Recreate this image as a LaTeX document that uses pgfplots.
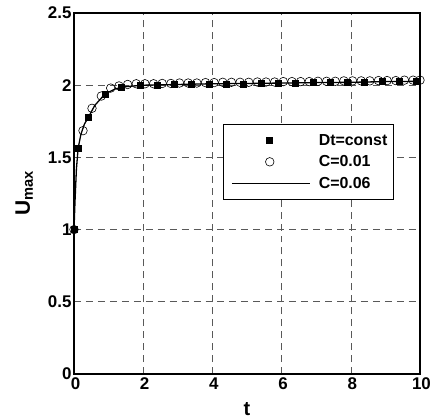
\documentclass[border=0pt]{standalone}
\usepackage{fontspec}
\setmainfont{Liberation Sans}
\usepackage{pgfplots}
\pgfplotsset{compat=1.18}
\pgfplotsset{marklegend/.style={legend image code/.code={\draw[mark repeat=1,mark phase=1,##1] plot coordinates {(42bp,0bp)}; \path[draw=none,fill=none] (0bp,0bp) -- (89bp,0bp);}}}
\begin{document}
\begin{tikzpicture}
\begin{axis}[name=ax,
  scale only axis, width=346bp, height=361bp,
  xmin=0, xmax=10, ymin=0, ymax=2.5,
  xtick={0,2,4,6,8,10}, ytick={0,0.5,1,1.5,2,2.5},
  yticklabels={0,0.5,1,1.5,2,2.5},
  /pgf/number format/assume math mode=true,
  ticklabel style={font=\fontsize{17}{17}\selectfont\bfseries},
  xticklabel style={yshift=0pt, xshift=1.5pt},
  yticklabel style={xshift=1pt},
  tick style={draw=none},
  grid=major,
  major grid style={black!65, dash pattern=on 7pt off 5pt, line width=0.6pt},
  axis line style={line width=1.4pt},
  xlabel={t}, xlabel style={font=\fontsize{20}{20}\selectfont\bfseries, yshift=-6pt},
  ylabel={U$_{\mathbf{max}}$}, ylabel style={font=\fontsize{21}{21}\selectfont\bfseries, yshift=8pt},
  legend style={at={(0.432,0.482)}, anchor=south west, font=\fontsize{16}{16}\selectfont\bfseries,
    draw=black, line width=0.6pt, inner xsep=4pt, inner ysep=8pt, row sep=5pt, cells={anchor=west}},
  legend cell align=left,
  legend image code/.code={\draw[#1] (4bp,0bp) -- (82bp,0bp); \path[draw=none] (0bp,0bp) -- (89bp,0bp);},
]
\addplot[only marks, mark=square*, mark size=3pt, black, marklegend] coordinates {
(0,1.0) (0.12,1.565) (0.42,1.78) (0.9,1.94) (1.37,1.985) (1.9,2.0) (2.4,2.0) (2.9,2.005) (3.4,2.005)
(3.9,2.01) (4.4,2.01) (4.9,2.01) (5.4,2.012) (5.9,2.015) (6.4,2.015) (6.9,2.018) (7.4,2.02)
(7.9,2.02) (8.4,2.022) (8.9,2.025) (9.4,2.025) (9.9,2.027)};
\addlegendentry{Dt=const}
\addplot[only marks, mark=o, mark size=4.3pt, black, mark options={line width=0.6pt}, marklegend] coordinates {
(0,1.0) (0.26,1.685) (0.52,1.84) (0.79,1.925) (1.06,1.98) (1.3,1.995) (1.55,2.005) (1.8,2.01)
(2.05,2.01) (2.3,2.01) (2.55,2.012) (2.8,2.012) (3.05,2.015) (3.3,2.015) (3.55,2.015) (3.8,2.018)
(4.05,2.018) (4.3,2.02) (4.55,2.02) (4.8,2.02) (5.05,2.02) (5.3,2.022) (5.55,2.022) (5.8,2.022)
(6.05,2.025) (6.3,2.025) (6.55,2.025) (6.8,2.025) (7.05,2.027) (7.3,2.027) (7.55,2.027) (7.8,2.03)
(8.05,2.03) (8.3,2.03) (8.55,2.03) (8.8,2.032) (9.05,2.032) (9.3,2.032) (9.55,2.035) (9.8,2.035) (10,2.035)};
\addlegendentry{C=0.01}
\addplot[black, line width=1.3pt] coordinates {
(0,1.0) (0.03,1.2) (0.07,1.42) (0.12,1.565) (0.2,1.66) (0.3,1.73) (0.42,1.78) (0.6,1.86) (0.9,1.94)
(1.2,1.975) (1.5,1.99) (2,2.0) (3,2.005) (4,2.01) (5,2.012) (6,2.015) (7,2.018) (8,2.02) (9,2.025) (10,2.027)};
\addlegendentry{C=0.06}
\end{axis}
\path[use as bounding box] ([xshift=-74bp,yshift=-43bp]ax.south west) rectangle ([xshift=15bp,yshift=13bp]ax.north east);
\end{tikzpicture}
\end{document}
